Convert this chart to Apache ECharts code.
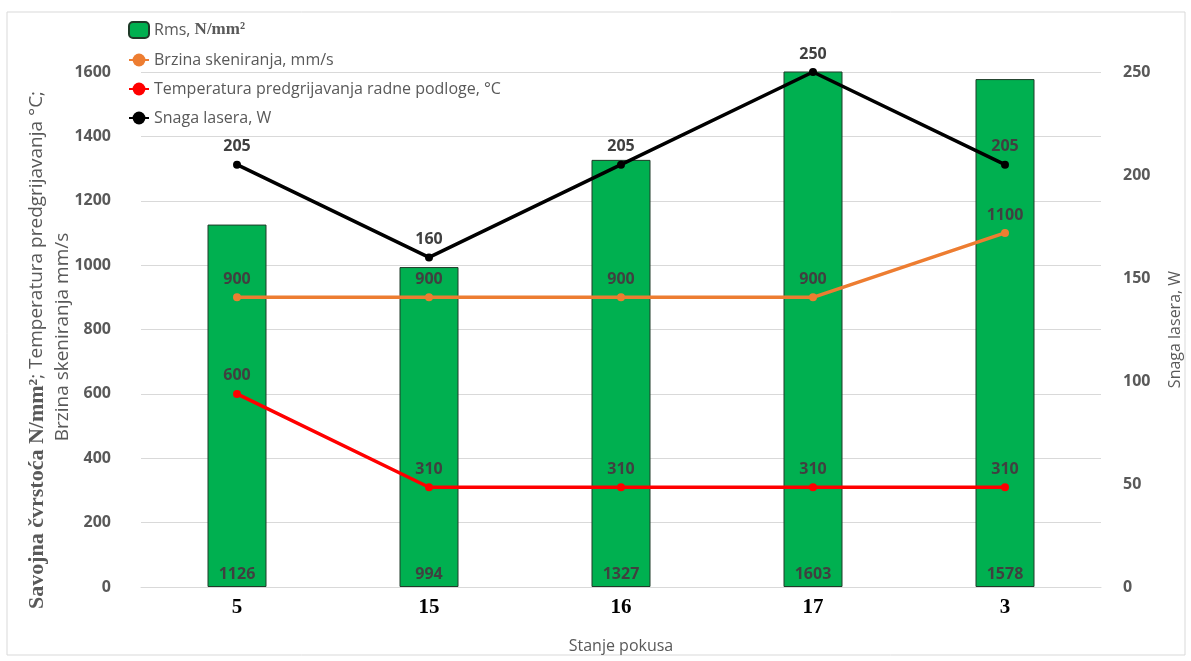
<!DOCTYPE html>
<html><head><meta charset="utf-8">
<script src="https://cdn.jsdelivr.net/npm/echarts@6/dist/echarts.min.js"></script>
<style>html,body{margin:0;padding:0;background:#fff}#c{width:1191px;height:661px}</style>
</head><body><div id="c"></div>
<script>
const categories = ['5', '15', '16', '17', '3'];
const rms = [1126, 994, 1327, 1603, 1578];
const brzina = [900, 900, 900, 900, 1100];
const temperatura = [600, 310, 310, 310, 310];
const snaga = [205, 160, 205, 250, 205];
const leftTicks = [0, 200, 400, 600, 800, 1000, 1200, 1400, 1600];
const rightTicks = [0, 50, 100, 150, 200, 250];

const F = '"Open Sans", "Noto Sans", sans-serif';
const S = '"Liberation Serif", "DejaVu Serif", serif';
const lblStyle = { show: true, position: 'top', distance: 6, color: '#404040', fontFamily: F, fontSize: 16, fontWeight: 'bold' };
const chart = echarts.init(document.getElementById('c'));
chart.setOption({
  backgroundColor: '#fff',
  animation: false,
  graphic: [
    { type: 'rect', shape: { x: 7, y: 12, width: 1178, height: 643 }, style: { fill: 'none', stroke: '#d9d9d9', lineWidth: 1 }, silent: true },
    { type: 'text', x: 37, y: 350, rotation: Math.PI / 2, silent: true,
      style: { text: '{s|Savojna čvrstoća N/mm²}{a|; Temperatura predgrijavanja °C;}', align: 'center', verticalAlign: 'middle',
        rich: { s: { fontFamily: S, fontSize: 22, fontWeight: 'bold', fill: '#595959' },
                a: { fontFamily: F, fontSize: 19, fill: '#595959' } } } },
    { type: 'text', x: 63, y: 337, rotation: Math.PI / 2, silent: true,
      style: { text: 'Brzina skeniranja mm/s', align: 'center', verticalAlign: 'middle', fontFamily: F, fontSize: 19, fill: '#595959' } }
  ],
  grid: { left: 141, right: 87, top: 72, bottom: 74 },
  legend: {
    orient: 'vertical', left: 123, top: 16, itemGap: 13, itemWidth: 20, itemHeight: 16,
    textStyle: { color: '#595959', fontFamily: F, fontSize: 16,
      rich: { s: { fontFamily: S, fontWeight: 'bold', fontSize: 17, color: '#595959' } } },
    formatter: function (n) { return n === 'Rms' ? 'Rms, {s|N/mm²}' : n; },
    data: ['Rms', 'Brzina skeniranja, mm/s', 'Temperatura predgrijavanja radne podloge, °C', 'Snaga lasera, W']
  },
  xAxis: {
    type: 'category', data: categories,
    name: 'Stanje pokusa', nameLocation: 'middle', nameGap: 51,
    nameTextStyle: { color: '#595959', fontFamily: F, fontSize: 16 },
    axisLine: { lineStyle: { color: '#d9d9d9' } }, axisTick: { show: false },
    axisLabel: { color: '#000', fontFamily: S, fontWeight: 'bold', fontSize: 21, margin: 10 }
  },
  yAxis: [{
    type: 'value', min: leftTicks[0], max: leftTicks[leftTicks.length - 1], interval: 200,
    axisLabel: { color: '#595959', fontFamily: F, fontSize: 16, fontWeight: 'bold', margin: 30, formatter: function (v) { return String(v); } },
    splitLine: { lineStyle: { color: '#d9d9d9' } }, axisLine: { show: false }, axisTick: { show: false }
  }, {
    type: 'value', min: rightTicks[0], max: rightTicks[rightTicks.length - 1], interval: 50,
    name: 'Snaga lasera, W', nameLocation: 'middle', nameRotate: 90, nameGap: 66,
    nameTextStyle: { color: '#595959', fontFamily: F, fontSize: 16 },
    axisLabel: { color: '#595959', fontFamily: F, fontSize: 16, fontWeight: 'bold', margin: 22, formatter: function (v) { return String(v); } },
    splitLine: { show: false }, axisLine: { show: false }, axisTick: { show: false }
  }],
  series: [{
    name: 'Rms', type: 'bar', data: rms, barWidth: 59, yAxisIndex: 0,
    itemStyle: { color: '#00B050', borderColor: '#1f3a28', borderWidth: 1 },
    label: { show: true, position: 'insideBottom', distance: 5, color: '#404040', fontFamily: F, fontSize: 16, fontWeight: 'bold' }
  }, {
    name: 'Brzina skeniranja, mm/s', type: 'line', data: brzina, yAxisIndex: 0,
    color: '#ED7D31', lineStyle: { width: 3.5, color: '#ED7D31' }, symbol: 'circle', symbolSize: 8,
    label: lblStyle
  }, {
    name: 'Temperatura predgrijavanja radne podloge, °C', type: 'line', data: temperatura, yAxisIndex: 0,
    color: '#FF0000', lineStyle: { width: 3.5, color: '#FF0000' }, symbol: 'circle', symbolSize: 8,
    label: lblStyle
  }, {
    name: 'Snaga lasera, W', type: 'line', data: snaga, yAxisIndex: 1,
    color: '#000000', lineStyle: { width: 3.5, color: '#000000' }, symbol: 'circle', symbolSize: 8,
    label: lblStyle
  }]
});
</script></body></html>
